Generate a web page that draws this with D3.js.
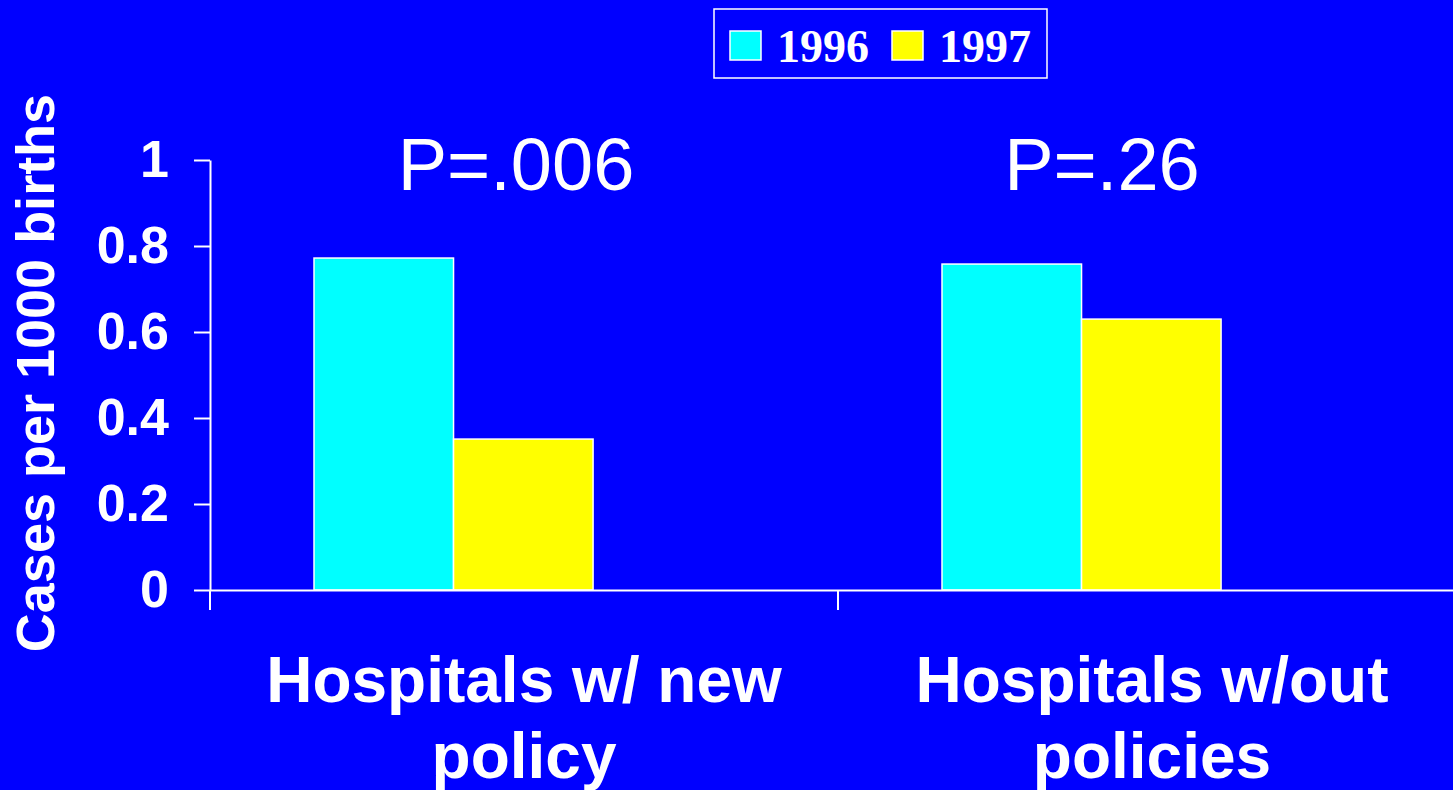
<!DOCTYPE html>
<html>
<head>
<meta charset="utf-8">
<script src="https://cdn.jsdelivr.net/npm/d3@7/dist/d3.min.js"></script>
<style>
  html, body { margin: 0; padding: 0; background: #0000ff; overflow: hidden; }
  svg { display: block; }
  text { fill: #ffffff; }
</style>
</head>
<body>
<script>
// Cases per 1000 births, by hospital group and year
const categories = ["Hospitals w/ new policy", "Hospitals w/out policies"];
const categoryLines = [["Hospitals w/ new", "policy"], ["Hospitals w/out", "policies"]];
const series = ["1996", "1997"];
const values1996 = [0.772, 0.758];
const values1997 = [0.351, 0.630];
const pLabels = ["P=.006", "P=.26"];
const yTicks = [0, 0.2, 0.4, 0.6, 0.8, 1];
const yTickLabels = ["0", "0.2", "0.4", "0.6", "0.8", "1"];
const yTitle = "Cases per 1000 births";

const W = 1453, H = 790;
const colors = { "1996": "#00ffff", "1997": "#ffff00" };
const sans = "'Liberation Sans', Arial, sans-serif";
const serif = "'Liberation Serif', 'Times New Roman', serif";

const svg = d3.select("body").append("svg")
  .attr("width", W).attr("height", H);

svg.append("rect").attr("width", W).attr("height", H).attr("fill", "#0000ff");

const y = d3.scaleLinear().domain([0, 1]).range([590, 160]);
const x0 = d3.scaleBand().domain(categories).range([210, 1466]).padding(0);
const bw = x0.bandwidth();
// two bars side by side, placed in the left part of each category slot
const x1 = d3.scaleBand().domain(series).range([bw * 0.1656, bw * 0.6100]).padding(0);

const rows = categories.map((c, i) => ({
  cat: c,
  vals: [{ key: "1996", v: values1996[i] }, { key: "1997", v: values1997[i] }]
}));

// bars
const groups = svg.append("g").selectAll("g").data(rows).join("g")
  .attr("transform", d => `translate(${x0(d.cat)},0)`);
groups.selectAll("rect").data(d => d.vals).join("rect")
  .attr("x", d => x1(d.key))
  .attr("y", d => y(d.v))
  .attr("width", x1.bandwidth())
  .attr("height", d => y(0) - y(d.v))
  .attr("fill", d => colors[d.key])
  .attr("stroke", "#ffffff")
  .attr("stroke-width", 1.5);

// y axis
const yAxis = svg.append("g").attr("transform", "translate(210,0)")
  .call(d3.axisLeft(y).tickValues(yTicks)
    .tickFormat((d, i) => yTickLabels[i])
    .tickSizeInner(16).tickSizeOuter(0).tickPadding(25));
yAxis.select(".domain").attr("stroke", "#ffffff").attr("stroke-width", 2);
yAxis.selectAll(".tick line").attr("stroke", "#ffffff").attr("stroke-width", 2);
yAxis.selectAll(".tick text")
  .attr("fill", "#ffffff")
  .style("font-family", sans).style("font-weight", "bold").style("font-size", "52px");

// x axis baseline with category boundary ticks
const xAxis = svg.append("g").attr("transform", `translate(0,${y(0)})`)
  .call(d3.axisBottom(x0).tickSizeInner(0).tickSizeOuter(0).tickFormat(""));
xAxis.select(".domain").attr("stroke", "#ffffff").attr("stroke-width", 2);
xAxis.selectAll(".tick").remove();
xAxis.selectAll("line.bound").data(categories).join("line")
  .attr("class", "bound")
  .attr("x1", d => x0(d)).attr("x2", d => x0(d))
  .attr("y1", 0).attr("y2", 20)
  .attr("stroke", "#ffffff").attr("stroke-width", 2);

// category labels
const catG = svg.append("g").selectAll("text").data(categories).join("text")
  .attr("x", d => x0(d) + bw / 2)
  .attr("y", 702)
  .attr("text-anchor", "middle")
  .style("font-family", sans).style("font-weight", "bold").style("font-size", "64px");
catG.selectAll("tspan").data((d, i) => categoryLines[i]).join("tspan")
  .attr("x", function () { return d3.select(this.parentNode).attr("x"); })
  .attr("dy", (d, i) => i === 0 ? 0 : 76)
  .text(d => d);

// P-value annotations
const pShift = [-8, -50];
svg.append("g").selectAll("text").data(categories).join("text")
  .attr("x", (d, i) => x0(d) + bw / 2 + pShift[i])
  .attr("y", 190)
  .attr("text-anchor", "middle")
  .style("font-family", sans).style("font-size", "74px")
  .text((d, i) => pLabels[i]);

// y axis title
svg.append("text")
  .attr("transform", "translate(54,373) rotate(-90)")
  .attr("text-anchor", "middle")
  .style("font-family", sans).style("font-weight", "bold").style("font-size", "54px")
  .text(yTitle);

// legend
const lg = svg.append("g").attr("transform", "translate(714,9)");
lg.append("rect").attr("width", 333).attr("height", 69)
  .attr("fill", "#0000ff").attr("stroke", "#ffffff").attr("stroke-width", 1.5);
const swX = [16, 178];
const items = lg.selectAll("g.item").data(series).join("g")
  .attr("class", "item")
  .attr("transform", (d, i) => `translate(${swX[i]},0)`);
items.append("rect")
  .attr("y", 22).attr("width", 31).attr("height", 29)
  .attr("fill", d => colors[d])
  .attr("stroke", "#ffffff").attr("stroke-width", 1.5);
items.append("text")
  .attr("x", 47).attr("y", 53)
  .style("font-family", serif).style("font-weight", "bold").style("font-size", "46px")
  .text(d => d);
</script>
</body>
</html>
